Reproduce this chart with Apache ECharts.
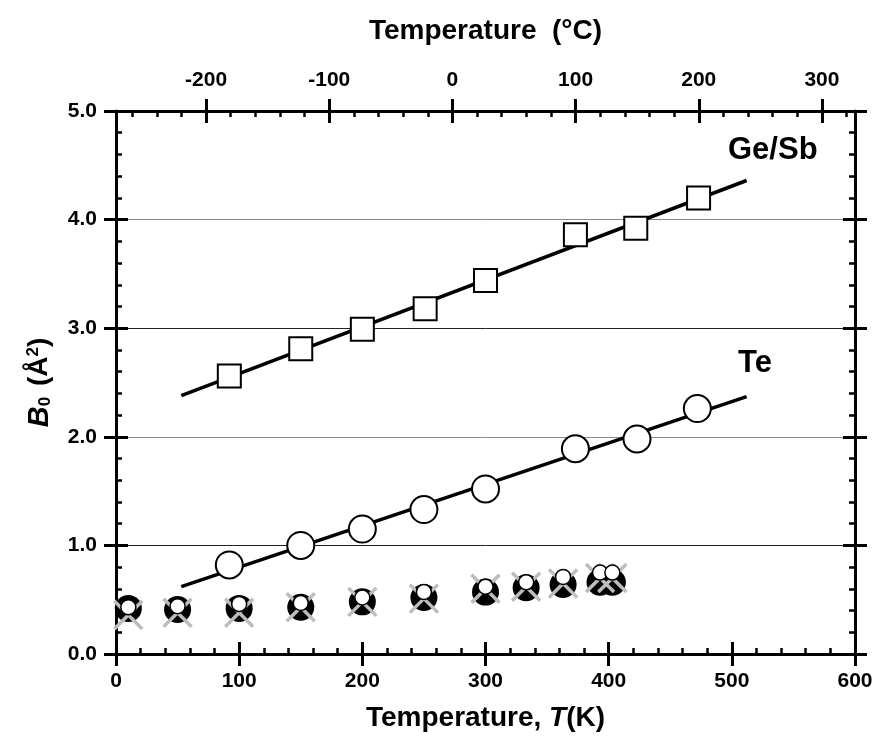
<!DOCTYPE html>
<html>
<head>
<meta charset="utf-8">
<script src="https://cdn.jsdelivr.net/npm/echarts@6/dist/echarts.min.js"></script>
<style>
  html, body { margin: 0; padding: 0; background: #fff; }
  #chart { width: 877px; height: 744px; }
</style>
</head>
<body>
<div id="chart"></div>
<script>
// Ge/Sb 位点 (方块)
const gesbT = [92, 150, 200, 251, 300, 373, 422, 473];
const gesbB = [2.56, 2.81, 2.99, 3.18, 3.44, 3.86, 3.92, 4.20];
const gesbFitT = [53, 512];
const gesbFitB = [2.38, 4.36];

// Te 位点 (圆圈)
const teT = [92, 150, 200, 250, 300, 373, 423, 472];
const teB = [0.82, 1.00, 1.15, 1.33, 1.52, 1.89, 1.98, 2.26];
const teFitT = [53, 512];
const teFitB = [0.62, 2.37];

// 底部三组数据
const lowT = [10, 50, 100, 150, 200, 250, 300, 333, 363, 393, 403];
const blackB = [0.42, 0.41, 0.42, 0.43, 0.48, 0.52, 0.57, 0.61, 0.64, 0.66, 0.66];
const whiteB = [0.43, 0.44, 0.46, 0.47, 0.52, 0.57, 0.62, 0.66, 0.71, 0.75, 0.75];
const crossB = [0.36, 0.38, 0.38, 0.43, 0.48, 0.51, 0.60, 0.62, 0.65, 0.70, 0.70];

// 刻度
const kelvinTicks = [0, 100, 200, 300, 400, 500, 600];
const celsiusTicks = [-200, -100, 0, 100, 200, 300];
const celsiusMinor = [-260, -240, -220, -180, -160, -140, -120, -80, -60, -40, -20,
  20, 40, 60, 80, 120, 140, 160, 180, 220, 240, 260, 280, 320];

const FONT = 'Liberation Sans';
const toK = c => c + 273.15;
const zip = (xs, ys) => xs.map((x, i) => [x, ys[i]]);

const labelStyle = {
  fontFamily: FONT,
  fontWeight: 'bold',
  fontSize: 21,
  color: '#000'
};
const titleStyle = {
  fontFamily: FONT,
  fontWeight: 'bold',
  fontSize: 28,
  color: '#000'
};
const tickLine = { color: '#000', width: 3 };
const minorLine = { color: '#000', width: 2.5 };
const axisLineOn = { show: true, onZero: false, lineStyle: { color: '#000', width: 3 } };
const axisLineOff = { show: false, onZero: false };

const chart = echarts.init(document.getElementById('chart'), null, { renderer: 'canvas' });

// 只画刻度的辅助x轴
function tickAxis(pos, inside, extra) {
  return Object.assign({
    type: 'value',
    position: pos,
    min: 0,
    max: 600,
    axisLine: axisLineOff,
    axisTick: { show: true, inside: inside, length: 12, lineStyle: tickLine },
    axisLabel: { show: false },
    splitLine: { show: false }
  }, extra || {});
}

// 只画刻度的辅助y轴
function yTickAxis(pos, inside, extra) {
  return Object.assign({
    type: 'value',
    position: pos,
    min: 0,
    max: 5,
    interval: 1,
    axisLine: axisLineOff,
    axisTick: { show: true, inside: inside, length: 12, lineStyle: tickLine },
    axisLabel: { show: false },
    splitLine: { show: false }
  }, extra || {});
}

const option = {
  backgroundColor: '#fff',
  animation: false,
  grid: { left: 116, right: 22, top: 111, bottom: 90, containLabel: false },
  xAxis: [
    // 底部主轴 (K)
    {
      type: 'value',
      position: 'bottom',
      min: 0,
      max: 600,
      interval: 100,
      name: 'Temperature, {i|T}(K)',
      nameLocation: 'middle',
      nameGap: 50,
      nameTextStyle: Object.assign({}, titleStyle, {
        rich: {
          i: { fontFamily: FONT, fontWeight: 'bold', fontStyle: 'italic', fontSize: 28, color: '#000' }
        }
      }),
      axisLine: axisLineOn,
      axisTick: { show: true, inside: true, length: 12, lineStyle: tickLine },
      minorTick: { show: true, splitNumber: 5, length: 6, lineStyle: minorLine },
      axisLabel: Object.assign({ margin: 17, customValues: kelvinTicks }, labelStyle),
      splitLine: { show: false }
    },
    tickAxis('bottom', false, { interval: 100 }),
    // 顶部 (°C)
    tickAxis('top', false, {
      name: 'Temperature  (°C)',
      nameLocation: 'middle',
      nameGap: 66,
      nameTextStyle: titleStyle,
      axisLine: axisLineOn,
      axisTick: { show: true, inside: false, length: 12, lineStyle: tickLine, customValues: celsiusTicks.map(toK) },
      axisLabel: Object.assign({
        show: true,
        margin: 20,
        customValues: celsiusTicks.map(toK),
        formatter: v => String(Math.round(v - 273.15))
      }, labelStyle)
    }),
    tickAxis('top', true, {
      axisTick: { show: true, inside: true, length: 12, lineStyle: tickLine, customValues: celsiusTicks.map(toK) }
    }),
    tickAxis('top', true, {
      axisTick: { show: true, inside: true, length: 6, lineStyle: minorLine, customValues: celsiusMinor.map(toK) }
    })
  ],
  yAxis: [
    {
      type: 'value',
      position: 'left',
      min: 0,
      max: 5,
      interval: 1,
      name: '{b|B}{s|0}{n| (Å}{p|2}{n|)}',
      nameLocation: 'middle',
      nameRotate: 90,
      nameGap: 62,
      nameTextStyle: {
        fontFamily: FONT,
        fontWeight: 'bold',
        fontSize: 28,
        color: '#000',
        rich: {
          b: { fontFamily: FONT, fontWeight: 'bold', fontStyle: 'italic', fontSize: 29, color: '#000' },
          s: { fontFamily: FONT, fontWeight: 'bold', fontSize: 17, color: '#000', verticalAlign: 'bottom', padding: [0, 3, 0, 0] },
          n: { fontFamily: FONT, fontWeight: 'bold', fontSize: 28, color: '#000' },
          p: { fontFamily: FONT, fontWeight: 'bold', fontSize: 17, color: '#000', verticalAlign: 'top' }
        }
      },
      axisLine: axisLineOn,
      axisTick: { show: true, inside: true, length: 12, lineStyle: tickLine },
      minorTick: { show: true, splitNumber: 5, length: 6, lineStyle: minorLine },
      axisLabel: Object.assign({ margin: 19, formatter: v => v.toFixed(1) }, labelStyle),
      splitLine: {
        show: true,
        lineStyle: { color: ['#000', '#222', '#888', '#222', '#888', '#000'], width: 1 }
      }
    },
    yTickAxis('left', false),
    yTickAxis('right', true, {
      axisLine: axisLineOn,
      minorTick: { show: true, splitNumber: 5, length: 6, lineStyle: minorLine }
    }),
    yTickAxis('right', false)
  ],
  graphic: [
    {
      type: 'text',
      left: 728,
      top: 135,
      style: { text: 'Ge/Sb', fontFamily: FONT, fontWeight: 'bold', fontSize: 31, fill: '#000' }
    },
    {
      type: 'text',
      left: 738,
      top: 348,
      style: { text: 'Te', fontFamily: FONT, fontWeight: 'bold', fontSize: 31, fill: '#000' }
    }
  ],
  series: [
    {
      name: 'Ge/Sb fit',
      type: 'line',
      data: zip(gesbFitT, gesbFitB),
      showSymbol: false,
      lineStyle: { color: '#000', width: 3.5 },
      z: 2
    },
    {
      name: 'Te fit',
      type: 'line',
      data: zip(teFitT, teFitB),
      showSymbol: false,
      lineStyle: { color: '#000', width: 3.5 },
      z: 2
    },
    {
      name: 'Ge/Sb',
      type: 'scatter',
      data: zip(gesbT, gesbB),
      symbol: 'rect',
      symbolSize: 23,
      itemStyle: { color: '#fff', borderColor: '#000', borderWidth: 2, opacity: 1 },
      z: 3
    },
    {
      name: 'Te',
      type: 'scatter',
      data: zip(teT, teB),
      symbol: 'circle',
      symbolSize: 27,
      itemStyle: { color: '#fff', borderColor: '#000', borderWidth: 2, opacity: 1 },
      z: 3
    },
    {
      name: 'low black',
      type: 'scatter',
      data: zip(lowT, blackB),
      symbol: 'circle',
      symbolSize: 27,
      itemStyle: { color: '#000', opacity: 1 },
      z: 3
    },
    {
      name: 'low cross',
      type: 'scatter',
      data: zip(lowT, crossB),
      symbol: 'path://M0,0L10,10M10,0L0,10',
      symbolSize: 28,
      itemStyle: { color: 'none', borderColor: '#bdbdbd', borderWidth: 3.5, opacity: 1 },
      z: 4
    },
    {
      name: 'low white',
      type: 'scatter',
      data: zip(lowT, whiteB),
      symbol: 'circle',
      symbolSize: 15,
      itemStyle: { color: '#fff', borderColor: '#000', borderWidth: 1.5, opacity: 1 },
      z: 5
    }
  ]
};

chart.setOption(option);
</script>
</body>
</html>
